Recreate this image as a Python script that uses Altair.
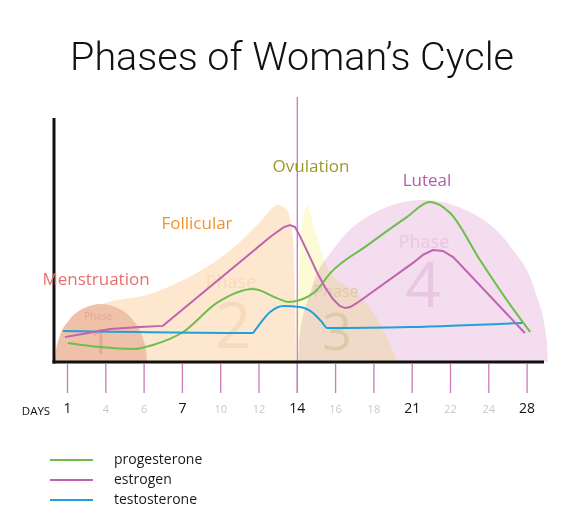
import pandas as pd
import altair as alt

PROG_COLOR = "#6DBE4B"
ESTR_COLOR = "#C063B0"
TEST_COLOR = "#1FA1DB"
TICK_COLOR = "#C97BBA"
AXIS_COLOR = "#111111"
FONT       = "Open Sans"

# ── data ───────────────────────────────────────────────────────────────
# x = position on the day axis (0 -> day 1 ... 12 -> day 28), y = relative level
DAY_LABELS    = [1, 4, 6, 7, 10, 12, 14, 16, 18, 21, 22, 24, 28]
MAJOR_DAYS    = [1, 7, 14, 21, 28]
OVULATION_DAY = 14

HORMONES = ["progesterone", "estrogen", "testosterone"]

PROG_X = [0.01, 0.85, 1.71, 2.23, 3.02, 3.90, 4.84, 5.47, 5.76, 6.07, 6.51, 6.85,
          7.80, 8.86, 9.46, 9.99, 10.77, 11.47, 12.08]
PROG_Y = [7.8, 6.1, 5.3, 7.0, 12.3, 24.2, 29.9, 26.2, 24.6, 25.4, 29.5, 36.2,
          47.5, 59.4, 65.6, 61.1, 41.8, 25.4, 12.3]

ESTR_X = [-0.07, 0.54, 1.11, 1.89, 2.49, 5.29, 5.47, 5.65, 5.81, 5.94, 6.07, 6.33,
          6.51, 6.72, 6.93, 7.11, 7.25, 7.38, 7.56, 9.02, 9.28, 9.54, 9.80, 10.07,
          11.94]
ESTR_Y = [10.2, 11.9, 13.5, 14.3, 14.8, 51.2, 53.3, 55.3, 56.1, 55.3, 51.6, 43.0,
          36.9, 30.7, 25.8, 23.0, 22.1, 22.5, 24.2, 40.6, 43.9, 45.9, 45.5, 43.0,
          11.9]

TEST_X = [-0.12, 4.84, 4.90, 5.29, 5.63, 6.07, 6.41, 6.64, 6.78, 8.94, 11.87]
TEST_Y = [12.7, 11.9, 13.1, 20.5, 23.0, 22.5, 20.1, 16.4, 13.9, 14.3, 16.0]

# phase backgrounds (outline of each hump)
P1_X = [-0.325, -0.31, -0.205, 0.035, 0.395, 0.875, 1.355, 1.715, 1.955, 2.06, 2.075]
P1_Y = [0, 3.4, 10.4, 17.0, 21.8, 23.8, 21.8, 17.0, 10.4, 3.4, 0]

P2_X = [-0.20, 0.85, 2.15, 3.46, 4.32, 5.03, 5.50, 5.73, 5.89, 5.94, 5.97]
P2_Y = [9.0, 23.4, 27.9, 37.3, 46.7, 57.4, 64.3, 62.3, 50.0, 25.4, 0]

P3_X = [5.99, 6.02, 6.10, 6.17, 6.25, 6.38, 6.54, 6.72, 6.98, 7.38, 7.69, 8.03,
        8.29, 8.47, 8.60]
P3_Y = [0, 25.4, 50.0, 60.2, 64.3, 58.2, 50.0, 41.0, 34.4, 30.3, 26.2, 19.3,
        11.9, 5.7, 0]

P4_X = [6.02, 6.05, 6.35, 7.00, 7.98, 9.28, 10.58, 11.56, 12.21, 12.51, 12.54]
P4_Y = [0, 9.4, 28.9, 47.4, 60.9, 66.4, 60.9, 47.4, 28.9, 9.4, 0]

PHASE_NAMES  = ["Menstruation", "Follicular", "Ovulation", "Luteal"]
PHASE_COLORS = ["#E8706C", "#EC9532", "#9C9A2E", "#B75BA9"]

# ── layout ─────────────────────────────────────────────────────────────
X_SCALE = alt.Scale(domain=[-1.5535, 13.2245], nice=False, zero=False)
Y_SCALE = alt.Scale(domain=[-62.295, 145.082], nice=False, zero=False)
PHASE_LABEL_POS = [(88, 277), (189, 221), (303, 164), (419, 178)]
# (text, x, y, size, colour) of the faint "Phase n" marks
PHASE_MARKS = [
    ("Phase", 90, 312, 10, "#E2AA96"), ("1", 92, 346, 34, "#E4A990"),
    ("Phase", 223, 280, 18, "#F6DABD"), ("2", 225, 340, 64, "#F6DABD"),
    ("Phase", 328, 289, 16, "#DCCBA8"), ("3", 329, 342, 52, "#DCCBA8"),
    ("Phase", 416, 240, 18, "#E9C6E2"), ("4", 415, 299, 62, "#E9C6E2"),
]


def xy(name, xs, ys):
    return pd.DataFrame({"x": xs, "y": ys, "name": name})


def hump(df, color, **kw):
    return (
        alt.Chart(df)
        .mark_area(color=color, interpolate="monotone", **kw)
        .encode(
            x=alt.X("x:Q", scale=X_SCALE, axis=None),
            y=alt.Y("y:Q", scale=Y_SCALE, axis=None),
        )
    )


def label(text, x, y, size, color, font=FONT, weight="normal"):
    return (
        alt.Chart(pd.DataFrame({"t": [text]}))
        .mark_text(font=font, fontSize=size, fontWeight=weight, color=color,
                   align="center", baseline="alphabetic")
        .encode(x=alt.value(x), y=alt.value(y), text="t:N")
    )


def rule(x, y, x2=None, y2=None, color=AXIS_COLOR, width=3):
    enc = {"x": alt.value(x), "y": alt.value(y)}
    if x2 is not None:
        enc["x2"] = alt.value(x2)
    if y2 is not None:
        enc["y2"] = alt.value(y2)
    return (
        alt.Chart(pd.DataFrame({"a": [0]}))
        .mark_rule(color=color, strokeWidth=width)
        .encode(**enc)
    )


# ── backgrounds ────────────────────────────────────────────────────────
phase2 = hump(xy("p2", P2_X, P2_Y), "#FDE8CF")
phase4 = hump(xy("p4", P4_X, P4_Y), "#F3DDEE")
phase1 = hump(xy("p1", P1_X, P1_Y), "#EFC1A8")
phase3 = hump(xy("p3", P3_X, P3_Y), "#FDFBD6", blend="multiply")

marks = [label(t, x, y, s, c) for t, x, y, s, c in PHASE_MARKS]

# ── day axis ───────────────────────────────────────────────────────────
days = pd.DataFrame({
    "pos": list(range(len(DAY_LABELS))),
    "day": DAY_LABELS,
    "major": [d in MAJOR_DAYS for d in DAY_LABELS],
})

ticks = (
    alt.Chart(days)
    .mark_rule(color=TICK_COLOR, strokeWidth=1.3)
    .encode(x=alt.X("pos:Q", scale=X_SCALE, axis=None),
            y=alt.value(356), y2=alt.value(385))
)

ovulation = (
    alt.Chart(days[days["day"] == OVULATION_DAY])
    .mark_rule(color=TICK_COLOR, strokeWidth=1.3)
    .encode(x=alt.X("pos:Q", scale=X_SCALE, axis=None),
            y=alt.value(89), y2=alt.value(385))
)

major_labels = (
    alt.Chart(days[days["major"]])
    .mark_text(font=FONT, fontSize=14, color="#111111", baseline="alphabetic")
    .encode(x=alt.X("pos:Q", scale=X_SCALE, axis=None), y=alt.value(405), text="day:N")
)
minor_labels = (
    alt.Chart(days[~days["major"]])
    .mark_text(font=FONT, fontSize=11, color="#C8C8C8", baseline="alphabetic")
    .encode(x=alt.X("pos:Q", scale=X_SCALE, axis=None), y=alt.value(405), text="day:N")
)
days_title = label("DAYS", 28, 407, 11.5, "#111111")

y_axis = rule(46, 110, y2=355.5)
x_axis = rule(44.5, 354, x2=536)

# ── hormone curves ─────────────────────────────────────────────────────
hormone_color = alt.Color(
    "name:N",
    scale=alt.Scale(domain=HORMONES, range=[PROG_COLOR, ESTR_COLOR, TEST_COLOR]),
    legend=alt.Legend(
        title=None, orient="none", legendX=56.5, legendY=445,
        symbolType="M-4.3,0H4.3", symbolSize=100, symbolStrokeWidth=2,
        labelFont=FONT, labelFontSize=14, labelColor="#1A1A1A",
        labelOffset=35.5, rowPadding=6, padding=0,
    ),
)


def curve(df, interpolate):
    return (
        alt.Chart(df)
        .mark_line(interpolate=interpolate, strokeWidth=2)
        .encode(
            x=alt.X("x:Q", scale=X_SCALE, axis=None),
            y=alt.Y("y:Q", scale=Y_SCALE, axis=None),
            color=hormone_color,
        )
    )


smooth = curve(pd.concat([xy("progesterone", PROG_X, PROG_Y),
                          xy("testosterone", TEST_X, TEST_Y)]), "monotone")
estrogen = curve(xy("estrogen", ESTR_X, ESTR_Y), "linear")

phase_names = [
    label(n, x, y, 17, c) for n, c, (x, y) in zip(PHASE_NAMES, PHASE_COLORS, PHASE_LABEL_POS)
]

title = label("Phases of Woman’s Cycle", 284, 62, 39.5, "#111111", font="Roboto", weight=300)

chart = (
    alt.layer(
        phase2, phase4, phase1, phase3, *marks,
        ovulation, ticks, y_axis, x_axis, major_labels, minor_labels, days_title,
        smooth, estrogen, *phase_names, title,
    )
    .properties(width=566, height=506, autosize="none", padding=0, background="white")
    .configure_view(strokeWidth=0)
)

chart.save("out.html", embed_options={"renderer": "svg", "actions": False})
